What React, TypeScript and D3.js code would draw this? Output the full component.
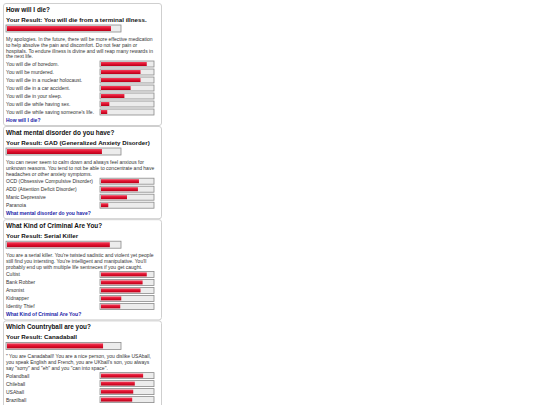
import React from "react";
import * as d3 from "d3";

const quizTitles = [
  "How will I die?",
  "What mental disorder do you have?",
  "What Kind of Criminal Are You?",
  "Which Countryball are you?",
];
const resultTexts = [
  "Your Result: You will die from a terminal illness.",
  "Your Result: GAD (Generalized Anxiety Disorder)",
  "Your Result: Serial Killer",
  "Your Result: Canadaball",
];
const resultScores = [92, 84, 91, 85];
const descriptions = [
  [
    "My apologies. In the future, there will be more effective medication",
    "to help absolve the pain and discomfort. Do not fear pain or",
    "hospitals. To endure illness is divine and will reap many rewards in",
    "the next life.",
  ],
  [
    "You can never seem to calm down and always feel anxious for",
    "unknown reasons. You tend to not be able to concentrate and have",
    "headaches or other anxiety symptoms.",
  ],
  [
    "You are a serial killer. You're twisted sadistic and violent yet people",
    "still find you intersting. You're intelligent and manipulative. You'll",
    "probably end up with multiple life sentneces if you get caught.",
  ],
  [
    "\" You are Canadaball! You are a nice person, you dislike USAball,",
    "you speak English and French, you are UKball's son, you always",
    "say \"sorry\" and \"eh\" and you \"can into space\".",
  ],
];
const optionLabels = [
  [
    "You will die of boredom.",
    "You will be murdered.",
    "You will die in a nuclear holocaust.",
    "You will die in a car accident.",
    "You will die in your sleep.",
    "You will die while having sex.",
    "You will die while saving someone's life.",
  ],
  [
    "OCD (Obsessive Compulsive Disorder)",
    "ADD (Attention Deficit Disorder)",
    "Manic Depressive",
    "Paranoia",
  ],
  ["Cultist", "Bank Robber", "Arsonist", "Kidnapper", "Identity Thief"],
  ["Polandball", "Chileball", "USAball", "Brazilball"],
];
const optionScores = [
  [88, 76, 76, 57, 45, 16, 12],
  [73, 71, 50, 14],
  [88, 80, 76, 39, 37],
  [81, 65, 62, 60],
];
const linkTexts = [
  "How will I die?",
  "What mental disorder do you have?",
  "What Kind of Criminal Are You?",
  "Which Countryball are you?",
];

const W = 540;
const H = 405;
const FONT = "'Liberation Sans', Arial, sans-serif";

const panelX0 = 3;
const panelX1 = 161;
const bigBarX = 6;
const bigBarW = 115;
const bigBarH = 7;
const smallBarX = 100;
const smallBarW = 54;
const smallBarH = 6;
const descStep = 5.8;
const rowStep = 8;

function Bar({ x, y, w, h, v }: { x: number; y: number; w: number; h: number; v: number }) {
  const s = d3.scaleLinear().domain([0, 100]).range([0, w - 2]);
  return (
    <g>
      <rect x={x} y={y} width={w} height={h} fill="#ececec" stroke="#8a8a8a" strokeWidth={0.8} />
      <rect x={x + 1} y={y + 1} width={s(v)} height={h - 2} fill="url(#redGrad)" />
    </g>
  );
}

export default function App() {
  let top = 3;
  const panels = quizTitles.map((title, i) => {
    const T = top;
    const descY0 = T + 36;
    const lastDesc = descY0 + (descriptions[i].length - 1) * descStep;
    const rowY0 = lastDesc + 7.6;
    const rows = optionLabels[i];
    const linkY = rowY0 + rows.length * rowStep;
    const bottom = linkY + 5;
    top = bottom + 1;
    return (
      <g key={i}>
        <rect
          x={panelX0 + 0.5}
          y={T + 0.5}
          width={panelX1 - panelX0}
          height={bottom - T}
          rx={2.5}
          fill="#fff"
          stroke="#cfcfcf"
          strokeWidth={1}
        />
        <text x={6} y={T + 6} dominantBaseline="central" fontFamily={FONT} fontWeight="bold" fontSize={6.4} fill="#111">
          {title}
        </text>
        <text x={6} y={T + 16} dominantBaseline="central" fontFamily={FONT} fontWeight="bold" fontSize={6.2} fill="#111">
          {resultTexts[i]}
        </text>
        <Bar x={bigBarX} y={T + 22} w={bigBarW} h={bigBarH} v={resultScores[i]} />
        {descriptions[i].map((line, j) => (
          <text key={j} x={6} y={descY0 + j * descStep} dominantBaseline="central" fontFamily={FONT} fontSize={5} fill="#333">
            {line}
          </text>
        ))}
        {rows.map((lab, j) => {
          const cy = rowY0 + j * rowStep;
          return (
            <g key={j}>
              <text x={6} y={cy} dominantBaseline="central" fontFamily={FONT} fontSize={5} fill="#333">
                {lab}
              </text>
              <Bar x={smallBarX} y={cy - smallBarH / 2} w={smallBarW} h={smallBarH} v={optionScores[i][j]} />
            </g>
          );
        })}
        <text x={6} y={linkY} dominantBaseline="central" fontFamily={FONT} fontWeight="bold" fontSize={5} fill="#1a1aa8">
          {linkTexts[i]}
        </text>
      </g>
    );
  });

  return (
    <svg
      width={W}
      height={H}
      style={{ position: "absolute", left: 0, top: 0, background: "#fff" }}
    >
      <defs>
        <linearGradient id="redGrad" x1="0" y1="0" x2="0" y2="1">
          <stop offset="0" stopColor="#f0405a" />
          <stop offset="0.5" stopColor="#e0102e" />
          <stop offset="1" stopColor="#b80018" />
        </linearGradient>
      </defs>
      <rect x={0} y={0} width={W} height={H} fill="#fff" />
      {panels}
    </svg>
  );
}
